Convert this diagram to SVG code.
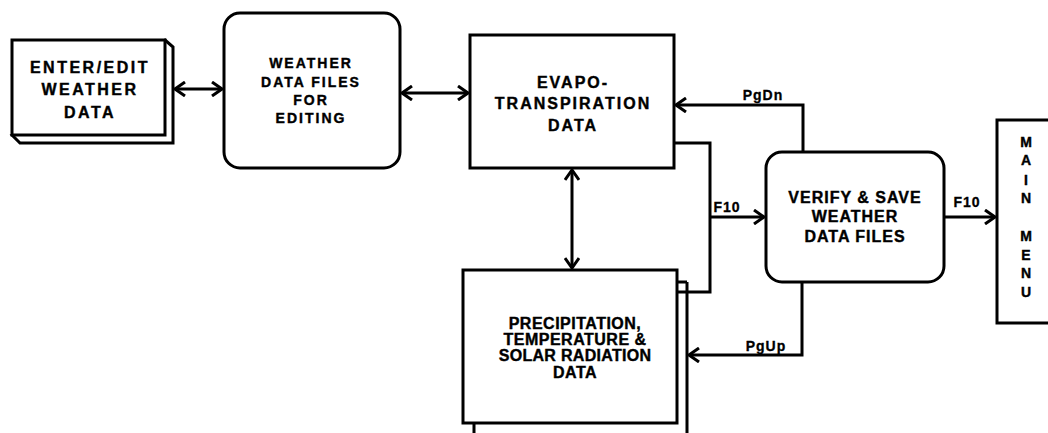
<svg xmlns="http://www.w3.org/2000/svg" width="1048" height="433" viewBox="0 0 1048 433">
<style>
.box{fill:#fff;stroke:#000;stroke-width:3}
.ln{fill:none;stroke:#000;stroke-width:3}
.t{font-family:"Liberation Sans",Arial,sans-serif;font-weight:bold;fill:#000;stroke:#000;stroke-width:0.4;text-anchor:middle}
.t16{font-size:16px;letter-spacing:2px}
.t14{font-size:14px;letter-spacing:2px}
.lbl{font-family:"Liberation Sans",Arial,sans-serif;font-weight:bold;font-size:14px;letter-spacing:1px;fill:#000;stroke:#000;stroke-width:0.3;text-anchor:middle}
</style>
<defs>
<marker id="ah" viewBox="-12 -8 14 16" refX="0" refY="0" markerWidth="14" markerHeight="16" markerUnits="userSpaceOnUse" orient="auto-start-reverse">
<path d="M-10,-7 L0,0 L-10,7" fill="none" stroke="#000" stroke-width="3"/>
</marker>
</defs>
<rect width="1048" height="433" fill="#fff"/>

<g id="enter-edit">
<polygon class="box" points="165,40 173,47 173,143 20,143 12,135"/>
<rect class="box" x="12" y="40" width="153" height="95"/>
<text class="t t16" x="90" y="73" style="letter-spacing:2.5px">ENTER/EDIT</text>
<text class="t t16" x="90" y="95" style="letter-spacing:2.5px">WEATHER</text>
<text class="t t16" x="90" y="118" style="letter-spacing:2.5px">DATA</text>
</g>

<g id="weather-files">
<rect class="box" x="224" y="13" width="176" height="155" rx="16"/>
<text class="t t14" x="311" y="68">WEATHER</text>
<text class="t t14" x="311" y="87">DATA FILES</text>
<text class="t t14" x="311" y="105">FOR</text>
<text class="t t14" x="311" y="123">EDITING</text>
</g>

<g id="evapo">
<rect class="box" x="470" y="35" width="204" height="133"/>
<text class="t t16" x="573" y="88">EVAPO-</text>
<text class="t t16" x="573" y="109">TRANSPIRATION</text>
<text class="t t16" x="573" y="131">DATA</text>
</g>

<g id="precip">
<path class="ln" d="M687,282 V433 M677,282 H687 M474,423 V433"/>
<rect class="box" x="463" y="270" width="214" height="153"/>
<text class="t" x="575" y="329" style="font-size:16px;letter-spacing:0.5px">PRECIPITATION,</text>
<text class="t" x="575" y="345" style="font-size:16px;letter-spacing:0.5px">TEMPERATURE &amp;</text>
<text class="t" x="575" y="361" style="font-size:16px;letter-spacing:0.3px">SOLAR RADIATION</text>
<text class="t" x="575" y="378" style="font-size:16px;letter-spacing:0.5px">DATA</text>
</g>

<g id="verify">
<rect class="box" x="766" y="152" width="178" height="130" rx="16"/>
<text class="t" x="855" y="203" style="font-size:16px;letter-spacing:1px">VERIFY &amp; SAVE</text>
<text class="t" x="855" y="222" style="font-size:16px;letter-spacing:1px">WEATHER</text>
<text class="t" x="855" y="242" style="font-size:16px;letter-spacing:1px">DATA FILES</text>
</g>

<g id="main-menu">
<path class="box" d="M1052,120 H997 V323 H1052"/>
<text class="t" x="1026" y="147" style="font-size:14px">M</text>
<text class="t" x="1026" y="165" style="font-size:14px">A</text>
<text class="t" x="1026" y="185" style="font-size:14px">I</text>
<text class="t" x="1026" y="203" style="font-size:14px">N</text>
<text class="t" x="1026" y="241" style="font-size:14px">M</text>
<text class="t" x="1026" y="260" style="font-size:14px">E</text>
<text class="t" x="1026" y="278" style="font-size:14px">N</text>
<text class="t" x="1026" y="297" style="font-size:14px">U</text>
</g>

<g id="connectors">
<line class="ln" x1="175" y1="89" x2="222" y2="89" marker-start="url(#ah)" marker-end="url(#ah)"/>
<line class="ln" x1="402" y1="93" x2="468" y2="93" marker-start="url(#ah)" marker-end="url(#ah)"/>
<line class="ln" x1="572" y1="170" x2="572" y2="268" marker-start="url(#ah)" marker-end="url(#ah)"/>
<path class="ln" d="M803,152 V105 H676" marker-end="url(#ah)"/>
<path class="ln" d="M674,143 H710 V292 H677"/>
<path class="ln" d="M710,217 H764" marker-end="url(#ah)"/>
<path class="ln" d="M802,282 V355 H689" marker-end="url(#ah)"/>
<path class="ln" d="M944,217 H995" marker-end="url(#ah)"/>
<text class="lbl" x="763" y="100">PgDn</text>
<text class="lbl" x="727" y="212">F10</text>
<text class="lbl" x="967" y="207">F10</text>
<text class="lbl" x="766" y="351">PgUp</text>
</g>
</svg>
